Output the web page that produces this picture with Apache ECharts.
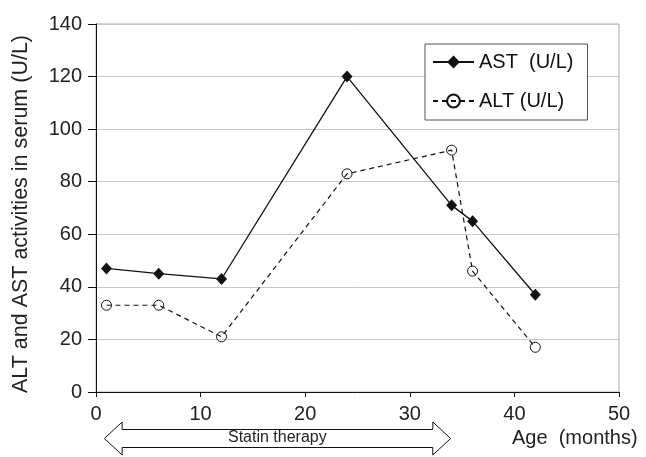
<!DOCTYPE html>
<html>
<head>
<meta charset="utf-8">
<script src="https://cdn.jsdelivr.net/npm/echarts@6/dist/echarts.min.js"></script>
<style>
html,body{margin:0;padding:0;background:#fff;}
#chart{width:646px;height:457px;}
</style>
</head>
<body>
<div id="chart"></div>
<script>
// Data
const ageMonths = [1, 6, 12, 24, 34, 36, 42];
const astValues = [47, 45, 43, 120, 71, 65, 37];
const altValues = [33, 33, 21, 83, 92, 46, 17];
const seriesNames = ['AST  (U/L)', 'ALT (U/L)'];
const yAxisTitle = 'ALT and AST activities in serum (U/L)';
const xAxisTitle = 'Age  (months)';
const statinLabel = 'Statin therapy';
const statinRange = [0.8, 33.9];   // arrow tips (months)
const statinHeadBase = [2.5, 32.2]; // arrow head bases (months)

const FONT = "'Liberation Sans', Arial, sans-serif";
const chart = echarts.init(document.getElementById('chart'), null, {renderer: 'canvas'});

const option = {
  animation: false,
  backgroundColor: '#fff',
  textStyle: {fontFamily: FONT},
  grid: {left: 96, right: 27, top: 24, bottom: 65, show: true, borderColor: '#aaa', borderWidth: 1,
         containLabel: false, outerBoundsMode: 'none'},
  legend: {
    orient: 'vertical',
    left: 425, top: 44,
    padding: [7, 14, 8, 7],
    borderColor: '#555', borderWidth: 1, backgroundColor: '#fff',
    itemWidth: 41, itemHeight: 16, itemGap: 17,
    textStyle: {fontSize: 20, color: '#111', fontFamily: FONT, lineHeight: 22},
    data: seriesNames
  },
  xAxis: {
    type: 'value', min: 0, max: 50, interval: 10,
    axisLine: {lineStyle: {color: '#111', width: 1}},
    axisTick: {show: true, length: 5, lineStyle: {color: '#111'}},
    axisLabel: {fontSize: 20, color: '#222', margin: 12, fontFamily: FONT},
    splitLine: {show: false}
  },
  yAxis: {
    type: 'value', min: 0, max: 140, interval: 20,
    axisLine: {show: true, lineStyle: {color: '#111', width: 1}},
    axisTick: {show: true, length: 8, lineStyle: {color: '#111'}},
    axisLabel: {fontSize: 20, color: '#222', margin: 14, fontFamily: FONT},
    splitLine: {show: true, lineStyle: {color: '#c8c8c8', width: 1}},
    name: yAxisTitle, nameLocation: 'middle', nameGap: 64, nameRotate: 90,
    nameTextStyle: {fontSize: 21.5, color: '#222', fontFamily: FONT, padding: [0, 12, 0, 0]}
  },
  series: [
    {
      name: seriesNames[0], type: 'line',
      data: ageMonths.map((a, i) => [a, astValues[i]]),
      symbol: 'diamond', symbolSize: [11, 12],
      itemStyle: {color: '#111'},
      lineStyle: {color: '#111', width: 1.3, type: 'solid'},
      z: 3
    },
    {
      name: seriesNames[1], type: 'line',
      data: ageMonths.map((a, i) => [a, altValues[i]]),
      symbol: 'circle', symbolSize: 10,
      itemStyle: {color: 'rgba(255,255,255,0)', borderColor: '#111', borderWidth: 1},
      lineStyle: {color: '#111', width: 1.2, type: [5, 4]},
      z: 2
    }
  ]
};
chart.setOption(option);

// Annotation: statin therapy double arrow and x axis title
const xl = chart.convertToPixel({gridIndex: 0}, [statinRange[0], 0])[0];
const xr = chart.convertToPixel({gridIndex: 0}, [statinRange[1], 0])[0];
const hl = chart.convertToPixel({gridIndex: 0}, [statinHeadBase[0], 0])[0];
const hr = chart.convertToPixel({gridIndex: 0}, [statinHeadBase[1], 0])[0];
const cy = 438.5, shaftH = 9, headH = 16.5;
chart.setOption({
  graphic: [
    {
      type: 'polygon', z: 10,
      shape: {points: [
        [xl, cy], [hl, cy - headH], [hl, cy - shaftH], [hr, cy - shaftH], [hr, cy - headH],
        [xr, cy], [hr, cy + headH], [hr, cy + shaftH], [hl, cy + shaftH], [hl, cy + headH]
      ]},
      style: {fill: '#fff', stroke: '#111', lineWidth: 1}
    },
    {
      type: 'text', z: 11, left: 228, top: 430,
      style: {text: statinLabel, fontSize: 16, fill: '#222', fontFamily: FONT}
    },
    {
      type: 'text', z: 11, left: 512, top: 428,
      style: {text: xAxisTitle, fontSize: 20, fill: '#222', fontFamily: FONT}
    }
  ]
});
</script>
</body>
</html>
